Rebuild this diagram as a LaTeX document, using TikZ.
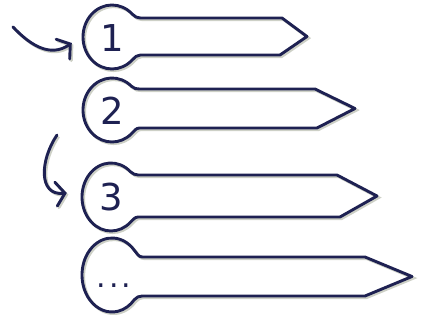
\documentclass[tikz,border=0pt]{standalone}
\usepackage{fontspec}
\setmainfont{DejaVu Sans}
\usetikzlibrary{arrows.meta}
\definecolor{ink}{HTML}{1E2152}
\definecolor{shade}{HTML}{CDD0C6}
\tikzset{
  tag/.style={draw=ink, line width=2.9pt, line join=round,
    preaction={draw=shade, line width=2.9pt, transform canvas={xshift=1.6pt,yshift=-1.6pt}}},
  hook/.style={tag, line cap=round, -{Straight Barb[length=9pt,width=24pt,line cap=round]}},
  num/.style={circle, inner sep=0pt, minimum size=58pt, text=ink, font=\fontsize{37}{37}\selectfont}
}
\begin{document}
\begin{tikzpicture}[x=1pt,y=1pt]
  \useasboundingbox (0,0) rectangle (421,-320);
  % tags: circle centre, radii, bar centre, half height, tip corners
  \foreach \i/\cx/\cy/\rx/\ry/\by/\h/\xt/\tx/\xb in {
      1/112/-37/29/32/-36.5/18.5/282/307/280,
      2/112/-110/29/32/-108.5/19.5/315/355/317,
      3/111/-197/29/34/-196/21/337/377/340,
      4/112/-275/30/37/-276.5/19.5/365/412/365} {
    \pgfmathsetmacro\ang{asin(\h/\ry)+10}
    \pgfmathsetmacro\ain{\ang-90}
    \pgfmathsetmacro\aout{90-\ang}
    \pgfmathsetmacro\jx{\cx+\rx*cos(\ang)}
    \pgfmathsetmacro\jy{\ry*sin(\ang)}
    \draw[tag] (\xt,\by+\h) -- (\jx+8,\by+\h) to[out=180,in=\ain] (\jx,\cy+\jy)
      arc[start angle=\ang, end angle=360-\ang, x radius=\rx, y radius=\ry]
      to[out=\aout,in=180] (\jx+8,\by-\h) -- (\xb,\by-\h) -- (\tx,\by) -- cycle;
  }
  \node[num] (n1) at (112,-38) {1};
  \node[num] (n2) at (112,-111) {2};
  \node[num] (n3) at (111,-197) {3};
  \node[text=ink, font=\fontsize{30}{30}\selectfont, inner sep=0pt] (n4) at (114,-286) {.\kern3pt.\kern3pt.};
  % arrows
  \coordinate (s1) at (13,-27);
  \coordinate (s2) at (57,-135);
  \draw[hook] (s1) .. controls (30,-45) and (50,-58) .. ([shift={(-11,-5)}]n1.west);
  \draw[hook] (s2) .. controls (40,-160) and (38,-196) .. ([shift={(-15,4)}]n3.west);
\end{tikzpicture}
\end{document}
